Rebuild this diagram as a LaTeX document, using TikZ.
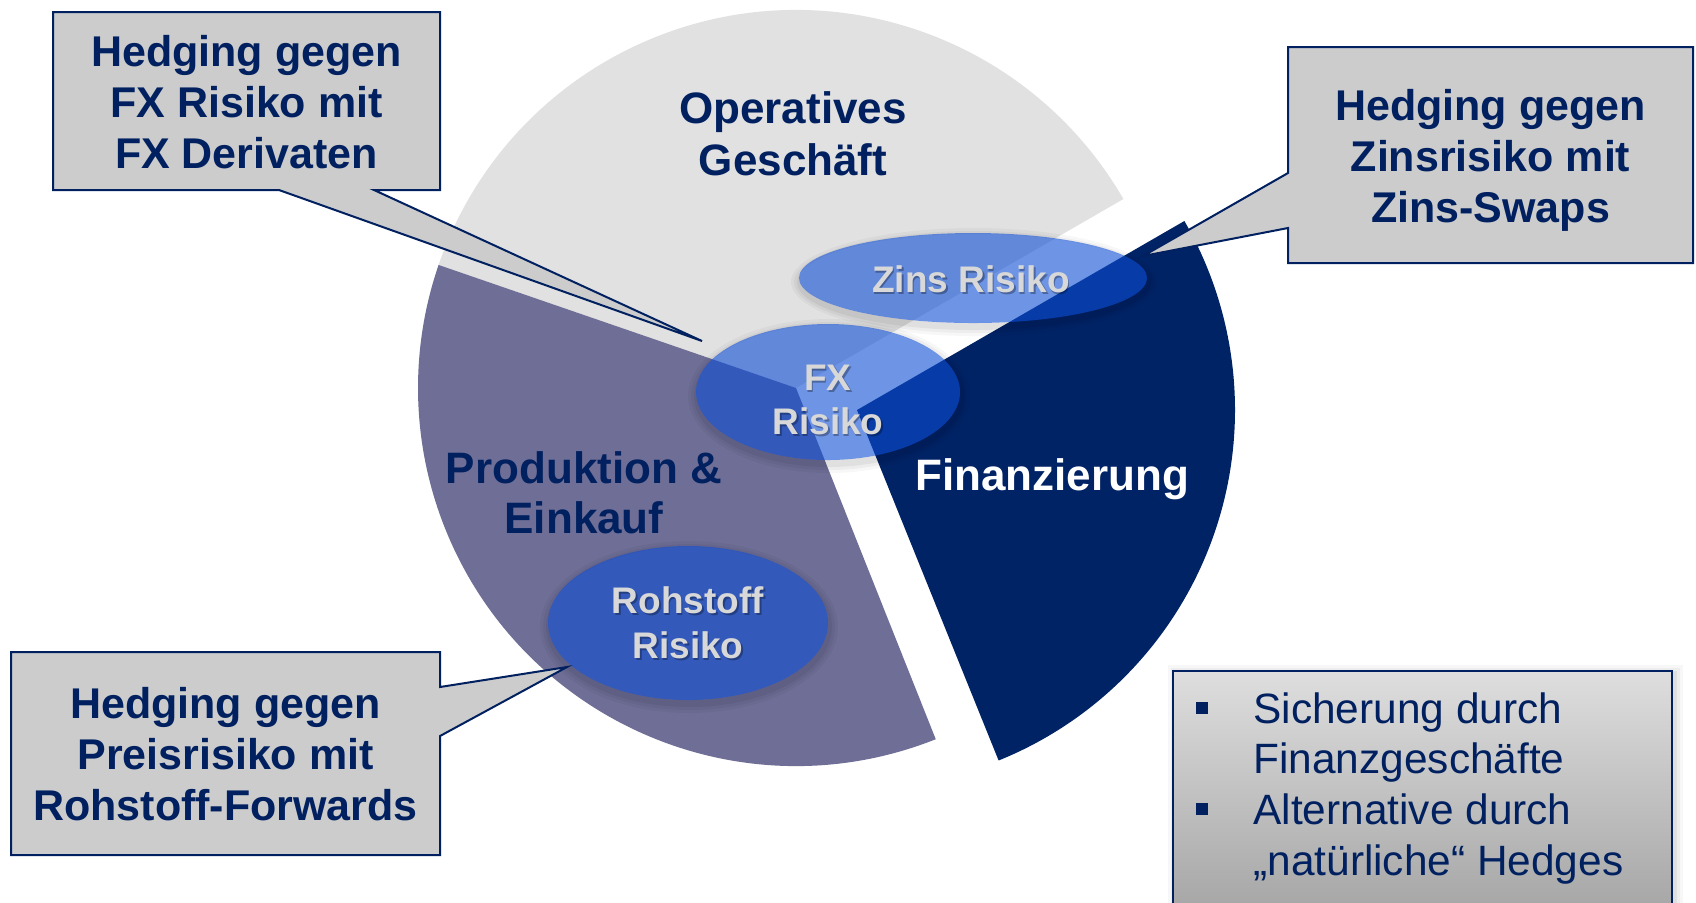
\documentclass[tikz,border=0pt]{standalone}
\usepackage{fontspec}
\setmainfont{Liberation Sans}
\usetikzlibrary{shapes.geometric}

\definecolor{navy}{RGB}{0,35,102}
\definecolor{textnavy}{RGB}{0,32,96}
\definecolor{slicegray}{RGB}{225,225,225}
\definecolor{slicepurple}{RGB}{110,110,150}
\definecolor{riskblue}{RGB}{12,77,213}
\definecolor{risktext}{RGB}{216,216,216}
\definecolor{calloutgray}{RGB}{204,204,204}
\definecolor{boxtop}{RGB}{222,222,222}
\definecolor{boxbottom}{RGB}{165,165,165}

% soft shadow ring below an ellipse: centre x, centre y, x radius, y radius
\newcommand\ellshadow[4]{%
  \foreach \d/\o in {9/0.03,6/0.04,3/0.05}{%
    \fill[black,opacity=\o,even odd rule]
      (#1+1,#2+4) ellipse[x radius=#3+\d,y radius=#4+\d]
      (#1,#2) ellipse[x radius=#3,y radius=#4];
  }%
}

\begin{document}
\begin{tikzpicture}[x=0.5pt,y=-0.5pt,
  callout/.style={fill=calloutgray,draw=textnavy,line width=1pt,line join=miter},
  calltext/.style={anchor=base,inner sep=0pt,text=textnavy,
    font=\fontsize{21.5pt}{26pt}\selectfont\bfseries},
  seglabel/.style={anchor=base,inner sep=0pt,text=textnavy,
    font=\fontsize{22pt}{26pt}\selectfont\bfseries},
  risklabel/.style={anchor=base,inner sep=0pt,text=risktext,
    font=\fontsize{18.5pt}{22pt}\selectfont\bfseries},
  riskshade/.style={risklabel,text=black,text opacity=0.3,xshift=0.8pt,yshift=-1.1pt},
  riskellipse/.style={ellipse,fill=riskblue,fill opacity=0.6,inner sep=0pt},
  bullettext/.style={anchor=base west,inner sep=0pt,text=textnavy,
    font=\fontsize{21.2pt}{25pt}\selectfont},
  bulletsq/.style={rectangle,fill=textnavy,minimum size=6pt,inner sep=0pt}
]
\useasboundingbox (0,0) rectangle (1696,902);
\fill[white] (0,0) rectangle (1696,902);
\clip (0,0) rectangle (1696,902);

% exploded pie: two slices share a centre, the financing slice is pulled out
\coordinate (pc) at (796,388);
\coordinate (fc) at (857,410);
\fill[slicegray]   (pc) -- ++(199:378) arc[start angle=199,end angle=330,radius=378] -- cycle;
\fill[slicepurple] (pc) -- ++(68.3:378) arc[start angle=68.3,end angle=199,radius=378] -- cycle;
\fill[navy]        (fc) -- ++(-30:378) arc[start angle=-30,end angle=68,radius=378] -- cycle;

% risk ellipses
\ellshadow{973}{278}{174}{45}
\ellshadow{828}{392}{132}{68}
\ellshadow{688}{623}{140}{77}
\node[riskellipse,minimum width=174pt,minimum height=45pt] (zins) at (973,278) {};
\node[riskellipse,minimum width=132pt,minimum height=68pt] (fx) at (828,392) {};
\node[riskellipse,minimum width=140pt,minimum height=77pt] (roh) at (688,623) {};

% callouts
\coordinate (t1) at (702,341);
\coordinate (t2) at (1143,256);
\coordinate (t3) at (567,667);
\filldraw[callout] (53,12) -- (440,12) -- (440,190) -- (374,190) -- (t1)
  -- (279,190) -- (53,190) -- cycle;
\filldraw[callout] (1288,47) -- (1693,47) -- (1693,263) -- (1288,263)
  -- (1288,228) -- (t2) -- (1288,173) -- cycle;
\filldraw[callout] (11,652) -- (440,652) -- (440,687) -- (t3)
  -- (440,736) -- (440,855) -- (11,855) -- cycle;

\node[calltext] (c1a) at (246.5,66)  {Hedging gegen};
\node[calltext] (c1b) at (246.5,117) {FX Risiko mit};
\node[calltext] (c1c) at (246.5,168) {FX Derivaten};
\node[calltext] (c2a) at (1490.5,120) {Hedging gegen};
\node[calltext] (c2b) at (1490.5,171) {Zinsrisiko mit};
\node[calltext] (c2c) at (1490.5,222) {Zins-Swaps};
\node[calltext] (c3a) at (225.5,718) {Hedging gegen};
\node[calltext] (c3b) at (225.5,769) {Preisrisiko mit};
\node[calltext] (c3c) at (225.5,820) {Rohstoff-Forwards};

% slice labels
\node[seglabel] (op1) at (793,123) {Operatives};
\node[seglabel] (op2) at (793,175) {Geschäft};
\node[seglabel] (pr1) at (584,483) {Produktion \&};
\node[seglabel] (pr2) at (584,533) {Einkauf};
\node[seglabel,text=white] (fin) at (1052,490) {Finanzierung};

% risk labels with a soft text shadow
\node[riskshade] at (971,292) {Zins Risiko};
\node[riskshade] at (828,390) {FX};
\node[riskshade] at (828,434) {Risiko};
\node[riskshade] at (688,613) {Rohstoff};
\node[riskshade] at (688,658) {Risiko};
\node[risklabel] (zr)  at (971,292) {Zins Risiko};
\node[risklabel] (fx1) at (828,390) {FX};
\node[risklabel] (fx2) at (828,434) {Risiko};
\node[risklabel] (ro1) at (688,613) {Rohstoff};
\node[risklabel] (ro2) at (688,658) {Risiko};

% summary box
\foreach \d/\o in {8/0.03,5/0.04,2/0.06}
  \fill[black,opacity=\o] (1173-\d+3,671-\d+2) rectangle (1672+\d+3,915);
\shade[top color=boxtop,bottom color=boxbottom] (1173,671) rectangle (1672,915);
\draw[textnavy,line width=1pt] (1173,671) rectangle (1672,915);
\node[bulletsq] (b1) at (1202,708) {};
\node[bulletsq] (b2) at (1202,809) {};
\node[bullettext] (s1) at (1253,723) {Sicherung durch};
\node[bullettext] (s2) at (1253,773) {Finanzgeschäfte};
\node[bullettext] (s3) at (1253,824) {Alternative durch};
\node[bullettext] (s4) at (1253,875) {„natürliche“ Hedges};
\end{tikzpicture}
\end{document}
